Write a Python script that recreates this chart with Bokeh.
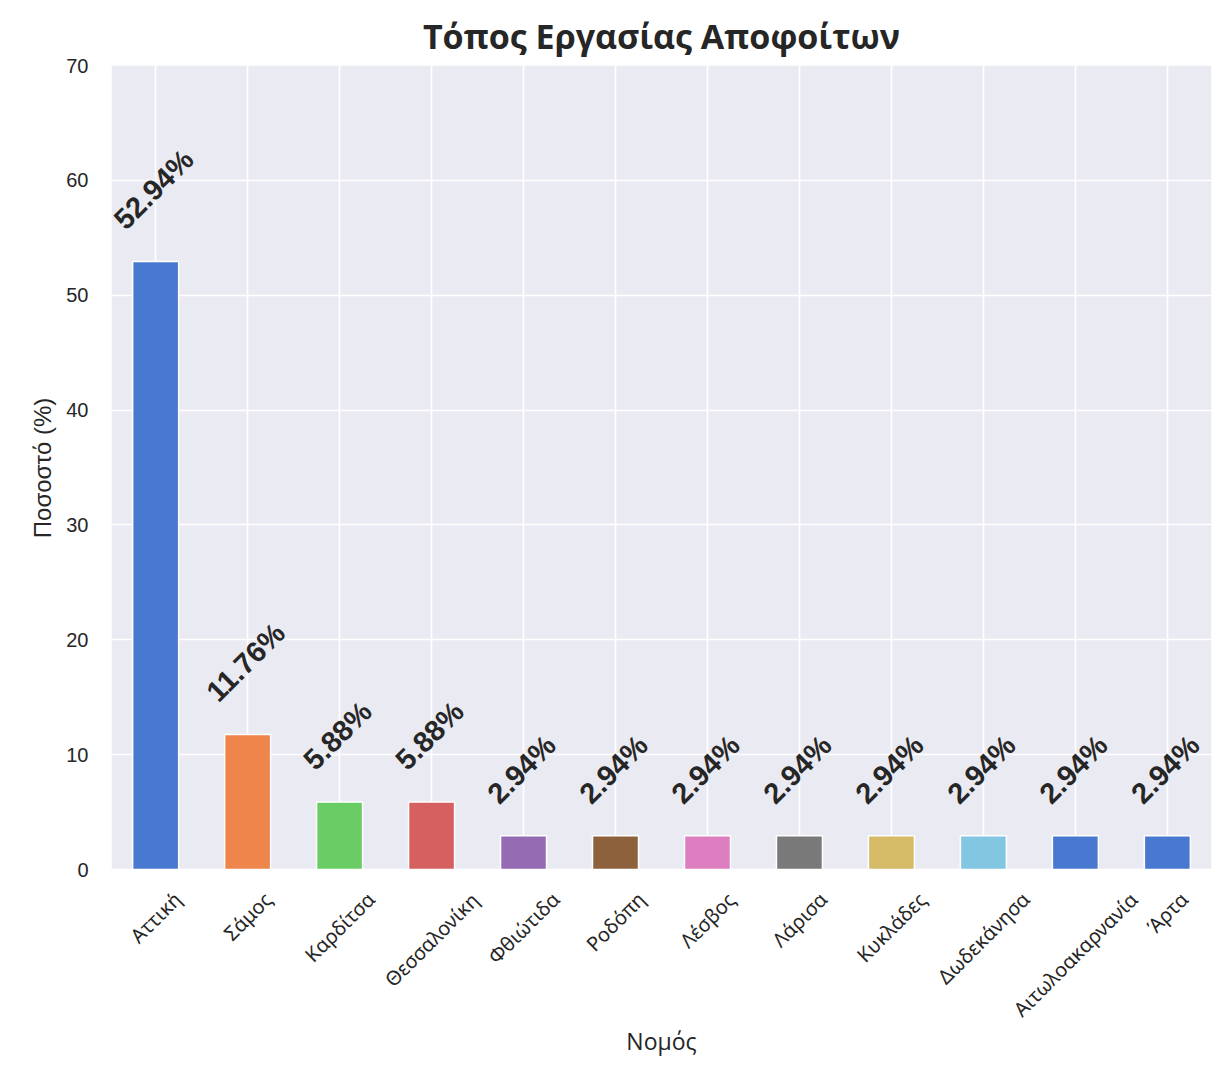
import math
from bokeh.plotting import figure
from bokeh.models import (ColumnDataSource, LabelSet, Range1d, FixedTicker, Grid,
                          BoxAnnotation, Title)
from bokeh.core.properties import value
from bokeh.embed import file_html
from bokeh.resources import INLINE

# ---- data ----
regions = ["Αττική", "Σάμος", "Καρδίτσα", "Θεσσαλονίκη", "Φθιώτιδα", "Ροδόπη",
           "Λέσβος", "Λάρισα", "Κυκλάδες", "Δωδεκάνησα", "Αιτωλοακαρνανία", "Άρτα"]
shares = [52.94, 11.76, 5.88, 5.88, 2.94, 2.94, 2.94, 2.94, 2.94, 2.94, 2.94, 2.94]
bar_colors = ["#4878D0", "#EE854A", "#6ACC64", "#D65F5F", "#956CB4", "#8C613C",
              "#DC7EC0", "#797979", "#D5BB67", "#82C6E2", "#4878D0", "#4878D0"]
y_ticks = [0, 10, 20, 30, 40, 50, 60, 70]
title_text = "Τόπος Εργασίας Αποφοίτων"
x_label = "Νομός"
y_label = "Ποσοστό (%)"

# ---- text-width estimates (em) used to centre rotated labels like matplotlib ----
DIGIT_W = {"0": .556, "1": .556, "2": .556, "3": .556, "4": .556, "5": .556,
           "6": .556, "7": .556, "8": .556, "9": .556, ".": .278, "%": .889}
GREEK_W = {"α": .60, "ά": .60, "β": .60, "γ": .52, "δ": .58, "ε": .49, "έ": .49,
           "ζ": .46, "η": .60, "ή": .60, "θ": .59, "ι": .32, "ί": .32, "κ": .54,
           "λ": .53, "μ": .63, "ν": .52, "ξ": .47, "ο": .60, "ό": .60, "π": .66,
           "ρ": .60, "σ": .61, "ς": .50, "τ": .48, "υ": .59, "φ": .76, "χ": .53,
           "ω": .80, "ώ": .80, "Α": .64, "Ά": .68, "Δ": .62, "Θ": .78, "Κ": .62,
           "Λ": .62, "Ρ": .60, "Σ": .56, "Φ": .82}
ARIAL_W = {"Π": .722, "ο": .556, "ό": .556, "σ": .57, "τ": .45, " ": .278,
           "(": .333, ")": .333, "%": .889}


def text_w(s, size, table, default):
    return sum(table.get(c, default) for c in s) * size


SQ2 = math.sqrt(2)
ANN_SIZE = 29
TICK_SIZE = 20
YLAB_SIZE = 24
INK = "#262626"
BG = "#EAEAF2"

# layout (pixels)
PLOT_W, PLOT_H = 1100, 804      # shaded plotting area
EXT = 189                        # white strip below the shaded area, holds the category labels
y_lo, y_hi = y_ticks[0], y_ticks[-1]
U = (y_hi - y_lo) / PLOT_H       # data units per pixel on y

n = len(regions)
idx = list(range(n))
ann_text = [f"{v:.2f}%" for v in shares]
ann_dy = [30 + (text_w(t, ANN_SIZE, DIGIT_W, .556) + 0.72 * ANN_SIZE) / (2 * SQ2) for t in ann_text]
lab_y = [y_lo - (21 + (text_w(t, TICK_SIZE, GREEK_W, .58) + 0.75 * TICK_SIZE) / (2 * SQ2)) * U
         for t in regions]

source = ColumnDataSource(dict(x=idx, top=shares, color=bar_colors, ann=ann_text,
                               ann_dy=ann_dy, name=regions, lab_y=lab_y))

p = figure(frame_width=PLOT_W, frame_height=PLOT_H + EXT,
           x_range=Range1d(-0.48, n - 0.52), y_range=Range1d(y_lo - EXT * U, y_hi),
           x_axis_location=None,
           output_backend="svg", toolbar_location=None,
           min_border_left=111, min_border_right=3, min_border_top=65, min_border_bottom=0,
           background_fill_color="white", border_fill_color="white",
           outline_line_color=None)
p.grid.visible = False

p.title.text = title_text
p.title.align = "center"
p.title.text_font = "Open Sans"
p.title.text_font_style = "bold"
p.title.text_font_size = "34px"
p.title.text_color = INK
p.title.standoff = 13

# shaded axes background (seaborn darkgrid) covering 0..70
p.add_layout(BoxAnnotation(bottom=y_lo, top=y_hi, fill_color=BG, fill_alpha=1,
                           line_color=None, level="image"))
p.add_layout(Grid(dimension=0, ticker=FixedTicker(ticks=idx), grid_line_color="white",
                  grid_line_width=1.6, bounds=(-1, n)))
p.add_layout(Grid(dimension=1, ticker=FixedTicker(ticks=y_ticks), grid_line_color="white",
                  grid_line_width=1.6))

p.vbar(x="x", top="top", width=0.5, bottom=0, fill_color="color",
       line_color="white", line_width=1.5, source=source)

p.yaxis.ticker = FixedTicker(ticks=y_ticks)
p.yaxis.axis_line_color = None
p.yaxis.major_tick_line_color = None
p.yaxis.minor_tick_line_color = None
p.yaxis.major_tick_out = 0
p.yaxis.major_tick_in = 0
p.yaxis.major_label_text_font = "Liberation Sans"
p.yaxis.major_label_text_font_size = "20px"
p.yaxis.major_label_text_color = INK
p.yaxis.major_label_standoff = 23

# y-axis title, centred on the shaded 0..70 area
ylab_len = text_w(y_label, YLAB_SIZE, ARIAL_W, .556)
p.add_layout(Title(text=y_label, align="right", offset=PLOT_H / 2 - ylab_len / 2,
                   text_font="Liberation Sans", text_font_size=f"{YLAB_SIZE}px",
                   text_font_style="normal", text_color=INK, standoff=16), "left")

# value labels above bars
p.add_layout(LabelSet(x="x", y="top", text="ann", x_offset=-2, y_offset="ann_dy",
                      angle=math.pi / 4, text_align="center", text_baseline="middle",
                      text_font=value("Liberation Sans"), text_font_style="bold",
                      text_font_size=f"{ANN_SIZE}px", text_color=INK, source=source))

# rotated category labels, centred under each bar like matplotlib
p.text(x="x", y="lab_y", text="name", angle=math.pi / 4, text_align="center",
       text_baseline="middle", text_font=value("Noto Sans"),
       text_font_size=value(f"{TICK_SIZE}px"), text_color=INK, source=source)

# x-axis title
p.text(x=[(n - 1) / 2], y=[y_lo - 171 * U], text=[x_label], text_align="center",
       text_baseline="middle", text_font=value("Open Sans"),
       text_font_size=value("23px"), text_color=INK)

open("out.html", "w").write(file_html(p, INLINE))
